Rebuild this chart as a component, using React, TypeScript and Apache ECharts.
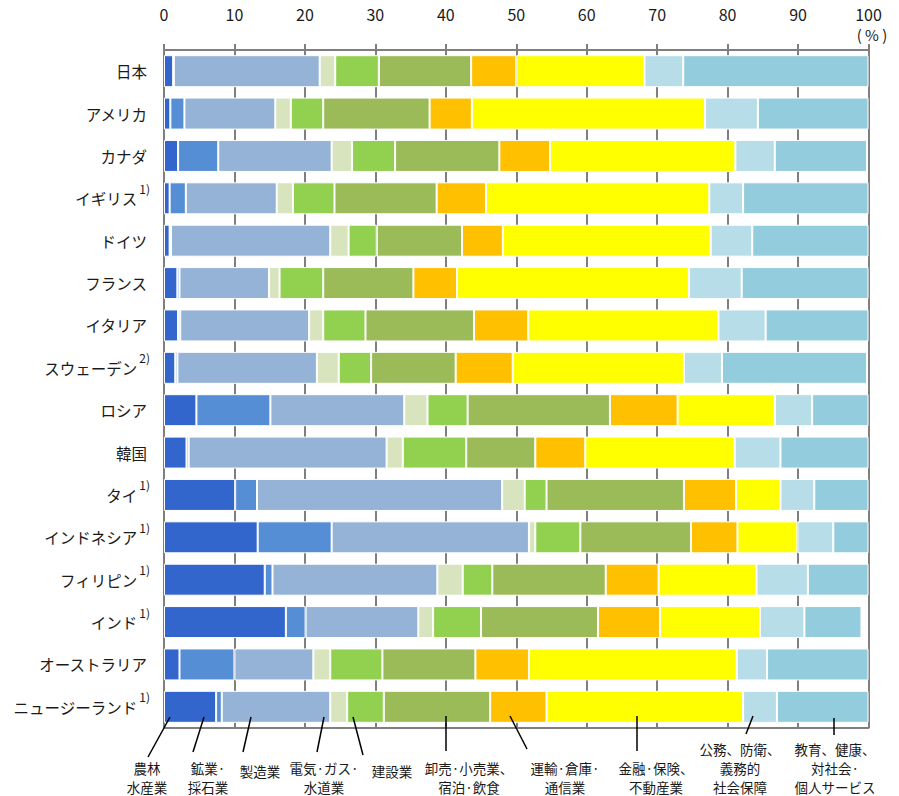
import React, { useEffect, useRef } from "react";
import * as echarts from "echarts";

const categories = ["日本", "アメリカ", "カナダ", "イギリス", "ドイツ", "フランス", "イタリア", "スウェーデン", "ロシア", "韓国", "タイ", "インドネシア", "フィリピン", "インド", "オーストラリア", "ニュージーランド"];
const notes = ["", "", "", "1)", "", "", "", "2)", "", "", "1)", "1)", "1)", "1)", "", "1)"];

const industries = ["農林水産業", "鉱業・採石業", "製造業", "電気・ガス・水道業", "建設業", "卸売・小売業、宿泊・飲食", "運輸・倉庫・通信業", "金融・保険、不動産業", "公務、防衛、義務的社会保障", "教育、健康、対社会・個人サービス"];

const agriculture = [1.3, 0.9, 2.0, 0.8, 0.8, 1.9, 2.0, 1.6, 4.6, 3.2, 10.1, 13.3, 14.3, 17.3, 2.2, 7.4];
const mining = [0.1, 2.0, 5.7, 2.3, 0.2, 0.3, 0.3, 0.3, 10.5, 0.3, 3.1, 10.5, 1.1, 2.8, 7.8, 0.8];
const manufacturing = [20.7, 12.9, 16.1, 12.9, 22.6, 12.7, 18.3, 19.8, 19.0, 28.1, 34.8, 28.0, 23.4, 16.0, 11.2, 15.4];
const utilities = [2.2, 2.2, 2.9, 2.3, 2.6, 1.5, 2.0, 3.1, 3.3, 2.3, 3.2, 0.9, 3.6, 2.1, 2.4, 2.4];
const construction = [6.2, 4.6, 6.1, 5.9, 4.0, 6.2, 6.0, 4.6, 5.7, 9.0, 3.1, 6.4, 4.2, 6.8, 7.4, 5.2];
const wholesale = [13.1, 15.1, 14.8, 14.5, 12.1, 12.8, 15.4, 12.0, 20.2, 9.8, 19.5, 15.7, 16.1, 16.6, 13.2, 15.1];
const transport = [6.4, 6.0, 7.2, 7.0, 5.8, 6.2, 7.7, 8.1, 9.6, 7.1, 7.4, 6.6, 7.5, 8.8, 7.6, 8.0];
const finance = [18.2, 33.1, 26.3, 31.7, 29.5, 32.9, 27.0, 24.3, 13.8, 21.2, 6.3, 8.5, 13.9, 14.2, 29.5, 27.9];
const publicAdmin = [5.5, 7.5, 5.6, 4.8, 5.9, 7.5, 6.7, 5.4, 5.3, 6.5, 4.8, 5.1, 7.3, 6.3, 4.3, 4.8];
const education = [26.3, 15.7, 13.1, 17.8, 16.5, 18.0, 14.6, 20.6, 8.0, 12.5, 7.7, 5.0, 8.6, 8.1, 14.4, 13.0];

const seriesData = [agriculture, mining, manufacturing, utilities, construction, wholesale, transport, finance, publicAdmin, education];
const colors = ["#3366CC", "#558ED5", "#95B3D7", "#D7E4BD", "#92D050", "#9BBB59", "#FFC000", "#FFFF00", "#B7DEE8", "#93CDDD"];

const xTicks = [0, 10, 20, 30, 40, 50, 60, 70, 80, 90, 100];

// annotation layout (decorative leader lines + labels under the chart)
const annotationLines = [
  ["農林", "水産業"],
  ["鉱業·", "採石業"],
  ["製造業"],
  ["電気·ガス·", "水道業"],
  ["建設業"],
  ["卸売·小売業、", "宿泊·飲食"],
  ["運輸·倉庫·", "通信業"],
  ["金融·保険、", "不動産業"],
  ["公務、防衛、", "義務的", "社会保障"],
  ["教育、健康、", "対社会·", "個人サービス"],
];
const annotationTextX = [147, 208, 260, 324, 392, 469, 565, 656, 740, 835];
const annotationLeader = [
  [170, 717, 148, 757],
  [204, 717, 193, 752],
  [251, 717, 243, 752],
  [324, 717, 317, 752],
  [353, 717, 363, 755],
  [446, 716, 446, 751],
  [510, 716, 527, 749],
  [637, 716, 637, 751],
  [753, 716, 746, 734],
  [834, 718, 834, 735],
];

const FONT = "'Noto Sans CJK JP', 'Noto Sans', sans-serif";

export default function App() {
  const ref = useRef<HTMLDivElement>(null);
  useEffect(() => {
    if (!ref.current) return;
    const chart = echarts.init(ref.current, undefined, { renderer: "svg" });

    const graphics: any[] = [];
    graphics.push({
      type: "text",
      x: 872,
      y: 34,
      style: { text: "( % )", fontSize: 15, fontFamily: FONT, fill: "#1a1a1a", textAlign: "center", textVerticalAlign: "middle" },
    });
    annotationLines.forEach((lines, i) => {
      const [x1, y1, x2, y2] = annotationLeader[i];
      graphics.push({
        type: "line",
        shape: { x1, y1, x2, y2 },
        style: { stroke: "#000", lineWidth: 1.5 },
        z: 100,
      });
      const ys = lines.length === 1 ? [771] : lines.length === 2 ? [768, 787] : [749, 768, 787];
      lines.forEach((t, j) => {
        graphics.push({
          type: "text",
          x: annotationTextX[i],
          y: ys[j],
          style: { text: t, fontSize: 13.5, fontFamily: FONT, fill: "#1a1a1a", textAlign: "center", textVerticalAlign: "middle" },
          z: 100,
        });
      });
    });

    chart.setOption({
      animation: false,
      textStyle: { fontFamily: FONT },
      grid: { left: 164, right: 30.5, top: 50, bottom: 68, containLabel: false },
      xAxis: [
        {
          type: "value",
          position: "top",
          min: 0,
          max: 100,
          interval: 10,
          axisLine: { show: true, lineStyle: { color: "#7f7f7f", width: 2 } },
          axisTick: { show: true, length: 6, lineStyle: { color: "#7f7f7f", width: 2 } },
          axisLabel: {
            margin: 28,
            fontSize: 16,
            color: "#1a1a1a",
            fontFamily: FONT,
            formatter: (v: number) => (xTicks.includes(v) ? String(v) : ""),
          },
          splitLine: { show: true, lineStyle: { color: "#7f7f7f", width: 2 } },
        },
        {
          type: "value",
          position: "bottom",
          min: 0,
          max: 100,
          axisLine: { show: true, onZero: false, lineStyle: { color: "#7f7f7f", width: 2 } },
          axisTick: { show: false },
          axisLabel: { show: false },
          splitLine: { show: false },
        },
      ],
      yAxis: {
        type: "category",
        inverse: true,
        data: categories,
        axisLine: { show: true, lineStyle: { color: "#7f7f7f", width: 2 } },
        axisTick: { show: false },
        axisLabel: {
          margin: 14,
          color: "#1a1a1a",
          fontFamily: FONT,
          formatter: (value: string, index: number) =>
            notes[index] ? `{n|${value}}{s|${notes[index]}}` : `{p|${value}}`,
          rich: {
            n: { fontSize: 15.5, lineHeight: 32, verticalAlign: "middle", color: "#1a1a1a", fontFamily: FONT },
            p: { fontSize: 15.5, lineHeight: 32, verticalAlign: "middle", color: "#1a1a1a", fontFamily: FONT, padding: [0, 3, 0, 0] },
            s: { fontSize: 12, lineHeight: 14, verticalAlign: "top", color: "#1a1a1a", fontFamily: FONT, padding: [0, 0, 0, 2] },
          },
        },
      },
      series: seriesData.map((d, i) => ({
        name: industries[i],
        type: "bar",
        stack: "total",
        xAxisIndex: 0,
        barWidth: 32,
        data: d,
        itemStyle: { color: colors[i], borderColor: "#ffffff", borderWidth: 1 },
        emphasis: { disabled: true },
      })),
      graphic: graphics,
    });
    return () => chart.dispose();
  }, []);
  return <div ref={ref} style={{ position: "fixed", left: 0, top: 0, width: 899, height: 796, background: "#fff" }} />;
}
